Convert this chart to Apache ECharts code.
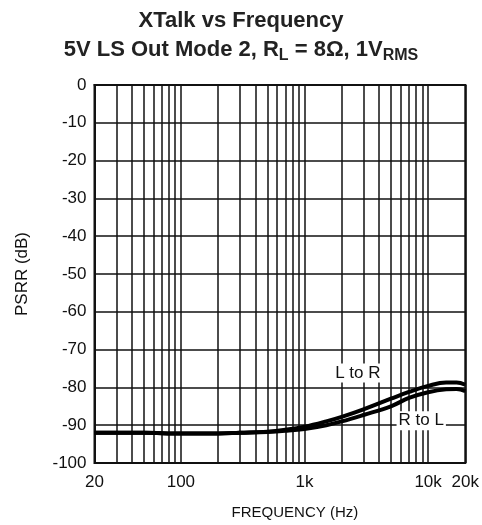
<!DOCTYPE html>
<html><head><meta charset="utf-8">
<script src="https://cdn.jsdelivr.net/npm/echarts@6/dist/echarts.min.js"></script>
<style>html,body{margin:0;padding:0;background:#fff}#c{width:482px;height:525px}</style>
</head><body><div id="c"></div>
<script>
var freq = [20, 30, 50, 100, 200, 300, 500, 700, 1000, 1500, 2000, 3000, 5000, 7000, 10000, 14000, 17000, 20000];
var lToR = [-92, -92, -92, -92.2, -92.2, -92, -91.7, -91.2, -90.4, -89, -87.8, -85.8, -83, -81.2, -79.6, -78.7, -78.7, -79.3];
var rToL = [-92, -92, -92, -92.2, -92.2, -92, -91.8, -91.5, -91, -90, -89, -87.3, -85, -82.8, -81.3, -80.5, -80.4, -81];
var minorGrid = [30, 40, 50, 60, 70, 80, 90, 200, 300, 400, 500, 600, 700, 800, 900, 2000, 3000, 4000, 5000, 6000, 7000, 8000, 9000];
var xTickText = {20: '20', 100: '100', 1000: '1k', 10000: '10k', 20000: '20k'};
var yTicks = {min: -100, max: 0, step: 10};
var annotations = [
  {name: 'L to R', coord: [2700, -76.2]},
  {name: 'R to L', coord: [8800, -88.8]}
];

var FONT = '"Liberation Sans", Arial, Helvetica, sans-serif';
var chart = echarts.init(document.getElementById('c'), null, {renderer: 'canvas'});

function pairs(xs, ys) { return xs.map(function (x, i) { return [x, ys[i]]; }); }

var option = {
  backgroundColor: '#fff',
  animation: false,
  title: [
    {text: 'XTalk vs Frequency', left: 'center', top: 5,
     textStyle: {fontFamily: FONT, fontSize: 22, fontWeight: 'bold', color: '#222'}},
    {text: '5V LS Out Mode 2, R{s|L} = 8\u03A9, 1V{s|RMS}', left: 'center', top: 30,
     textStyle: {fontFamily: FONT, fontSize: 22, fontWeight: 'bold', color: '#222',
       rich: {s: {fontFamily: FONT, fontSize: 16, fontWeight: 'bold', color: '#222', padding: [13, 0, 0, 0]}}}}
  ],
  grid: {left: 94.5, right: 16, top: 85, bottom: 58, show: true, borderColor: '#111', borderWidth: 2, backgroundColor: 'transparent'},
  xAxis: {
    type: 'log', logBase: 10, min: 20, max: 20000,
    name: 'FREQUENCY (Hz)', nameLocation: 'middle', nameGap: 42,
    nameTextStyle: {fontFamily: FONT, fontSize: 15, color: '#111', padding: [0, 0, 0, 30]},
    axisLine: {show: true, lineStyle: {color: '#111', width: 2}},
    axisTick: {show: false},
    axisLabel: {showMinLabel: true, showMaxLabel: true, margin: 11, fontFamily: FONT, fontSize: 17, color: '#111',
      formatter: function (v) { var r = Math.round(v); return xTickText[r] !== undefined ? xTickText[r] : ''; }},
    splitLine: {show: true, lineStyle: {color: '#111', width: 1.5}}
  },
  yAxis: {
    type: 'value', min: yTicks.min, max: yTicks.max, interval: yTicks.step,
    name: 'PSRR (dB)', nameLocation: 'middle', nameGap: 64, nameRotate: 90,
    nameTextStyle: {fontFamily: FONT, fontSize: 17, color: '#111'},
    axisLine: {show: true, lineStyle: {color: '#111', width: 2}},
    axisTick: {show: false},
    axisLabel: {margin: 8, fontFamily: FONT, fontSize: 17, color: '#111'},
    splitLine: {show: true, lineStyle: {color: '#111', width: 1.5}}
  },
  series: [
    {name: 'grid', type: 'line', data: [], silent: true,
     markLine: {silent: true, symbol: 'none', label: {show: false}, animation: false,
       lineStyle: {color: '#111', width: 1.5, type: 'solid'},
       data: minorGrid.map(function (f) { return {xAxis: f}; })}},
    {name: 'R to L', type: 'line', data: pairs(freq, rToL), showSymbol: false, smooth: 0.4,
     lineStyle: {color: '#000', width: 4}, z: 5},
    {name: 'L to R', type: 'line', data: pairs(freq, lToR), showSymbol: false, smooth: 0.4,
     lineStyle: {color: '#000', width: 4}, z: 5},
    {name: 'labels', type: 'scatter', data: [], silent: true, z: 10,
     markPoint: {symbol: 'rect', symbolSize: 0, silent: true,
       label: {show: true, position: 'inside', fontFamily: FONT, fontSize: 17, color: '#111',
         backgroundColor: '#fff', padding: [1, 2, 1, 2], formatter: function (p) { return p.name; }},
       data: annotations.map(function (a) { return {name: a.name, coord: a.coord}; })}}
  ]
};
chart.setOption(option);
</script></body></html>
